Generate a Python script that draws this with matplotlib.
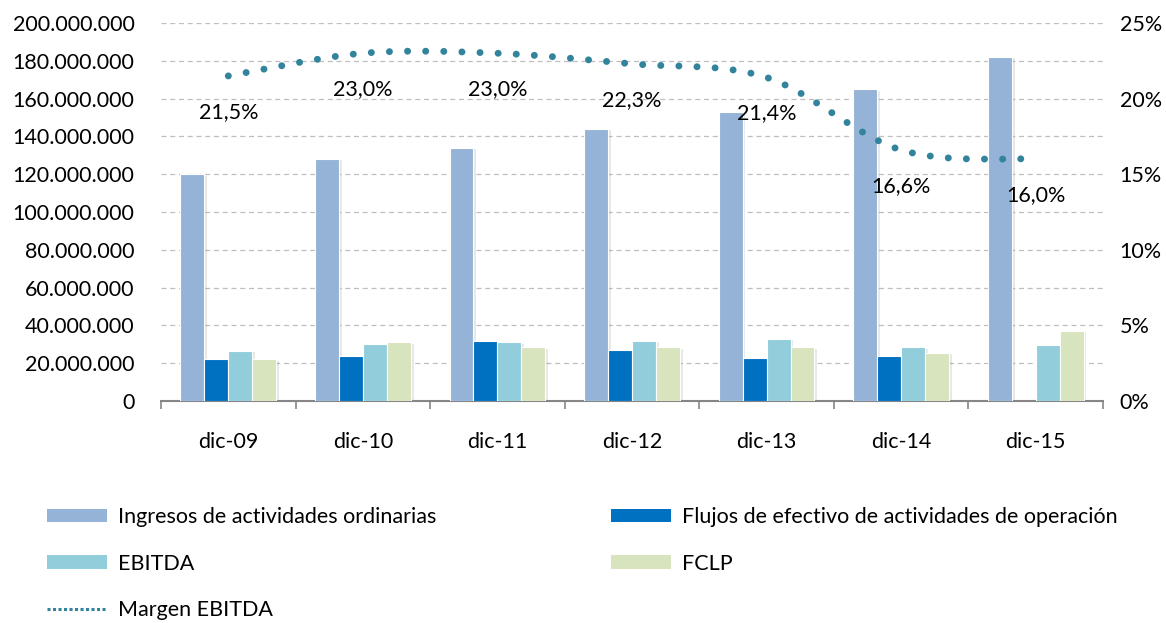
import numpy as np
import matplotlib
matplotlib.use("Agg")
import matplotlib.pyplot as plt
import matplotlib.ticker as ticker
import matplotlib.patheffects as pe
from matplotlib.path import Path
from matplotlib.patches import PathPatch, Patch
from matplotlib.lines import Line2D

plt.rcParams["font.family"] = ["Lato", "DejaVu Sans"]

# data
periods  = ["dic-09", "dic-10", "dic-11", "dic-12", "dic-13", "dic-14", "dic-15"]
ingresos = [120.0, 128.0, 134.0, 144.0, 153.0, 165.0, 182.0]   # millones
flujos   = [22.0, 24.0, 32.0, 27.0, 22.5, 24.0, np.nan]
ebitda   = [26.5, 30.0, 31.0, 32.0, 33.0, 28.5, 29.5]
fclp     = [22.0, 31.0, 28.5, 28.5, 28.5, 25.5, 37.0]
margen   = [21.5, 23.0, 23.0, 22.3, 21.4, 16.6, 16.0]          # %

series_names = ["Ingresos de actividades ordinarias",
                "Flujos de efectivo de actividades de operación",
                "EBITDA", "FCLP"]
colors = ["#95B3D7", "#0070C0", "#92CDDC", "#D7E4BD"]
line_color = "#31849B"
FS = 15.5

fig = plt.figure(figsize=(11.66, 6.23), dpi=100)
ax = fig.add_axes([161 / 1166, 1 - 401 / 623, (1103 - 161) / 1166, (401 - 23) / 623])
ax2 = ax.twinx()

x = np.arange(len(periods))
bw = 0.178
offsets = (np.arange(4) - 1.5) * bw
shadow = [pe.SimplePatchShadow(offset=(2, -1), alpha=0.18, shadow_rgbFace="#808080"), pe.Normal()]
for vals, off, col in zip([ingresos, flujos, ebitda, fclp], offsets, colors):
    v = np.array(vals) * 1e6
    bars = ax.bar(x + off, v, width=bw, color=col, edgecolor="white", linewidth=0.8, zorder=3)
    for b in bars:
        b.set_path_effects(shadow)

ax.set_ylim(0, 200e6)
ax.set_xlim(-0.5, len(periods) - 0.5)
ax.yaxis.set_major_locator(ticker.MultipleLocator(20e6))
ax.yaxis.set_major_formatter(ticker.FuncFormatter(lambda v, p: f"{v:,.0f}".replace(",", ".")))
ax.grid(axis="y", color="#BFBFBF", linestyle=(0, (4, 3)), linewidth=0.9, zorder=0)
ax.set_axisbelow(True)

# category boundaries get the tick marks, centres get the labels
ax.set_xticks(np.arange(len(periods) + 1) - 0.5)
ax.set_xticklabels([])
ax.set_xticks(x, minor=True)
ax.set_xticklabels(periods, minor=True)
ax.tick_params(axis="x", which="major", length=6, width=1.2, color="#868686", direction="out")
ax.tick_params(axis="x", which="minor", length=0, pad=22, labelsize=FS)
ax.tick_params(axis="y", length=0, pad=19, labelsize=FS)

for a in (ax, ax2):
    for s in ["top", "left", "right"]:
        a.spines[s].set_visible(False)
ax.spines["bottom"].set_color("#868686")
ax.spines["bottom"].set_linewidth(1.5)
ax2.spines["bottom"].set_visible(False)

# smoothed margin line (Bezier through the data points)
ax2.set_ylim(0, 25)
ax2.yaxis.set_major_locator(ticker.MultipleLocator(5))
ax2.yaxis.set_major_formatter(ticker.FuncFormatter(lambda v, p: f"{v:.0f}%"))
ax2.tick_params(axis="y", length=0, pad=12, labelsize=FS)

pts = np.column_stack([x, margen])
verts = [tuple(pts[0])]
codes = [Path.MOVETO]
n = len(pts)
for i in range(n - 1):
    p0 = pts[max(i - 1, 0)]
    p1 = pts[i]
    p2 = pts[i + 1]
    p3 = pts[min(i + 2, n - 1)]
    c1 = p1 + (p2 - p0) / 6
    c2 = p2 - (p3 - p1) / 6
    verts += [tuple(c1), tuple(c2), tuple(p2)]
    codes += [Path.CURVE4] * 3
curve = PathPatch(Path(verts, codes), fill=False, edgecolor=line_color,
                  linewidth=5.0, linestyle=(0, (0.01, 2.6)), capstyle="round", zorder=5)
ax2.add_patch(curve)

for xi, m in zip(x, margen):
    ax2.annotate(f"{m:.1f}%".replace(".", ","), (xi, m), xytext=(0, -26),
                 textcoords="offset points", ha="center", va="center", fontsize=FS, zorder=6)

handles = [Patch(facecolor=c, edgecolor="none") for c in colors]
margen_h = Line2D([], [], color=line_color, linewidth=2.2, linestyle=(0, (1, 0.8)))
order_h = [handles[0], handles[2], margen_h, handles[1], handles[3]]
order_l = [series_names[0], series_names[2], "Margen EBITDA", series_names[1], series_names[3]]
fig.legend(order_h, order_l, loc="upper left", bbox_to_anchor=(47 / 1166, 1 - 507 / 623),
           ncol=2, frameon=False, fontsize=15.5, handlelength=2.8, handleheight=0.6,
           handletextpad=0.5, columnspacing=8.1, labelspacing=1.24, borderpad=0,
           borderaxespad=0)

fig.savefig("out.png", dpi=100)
